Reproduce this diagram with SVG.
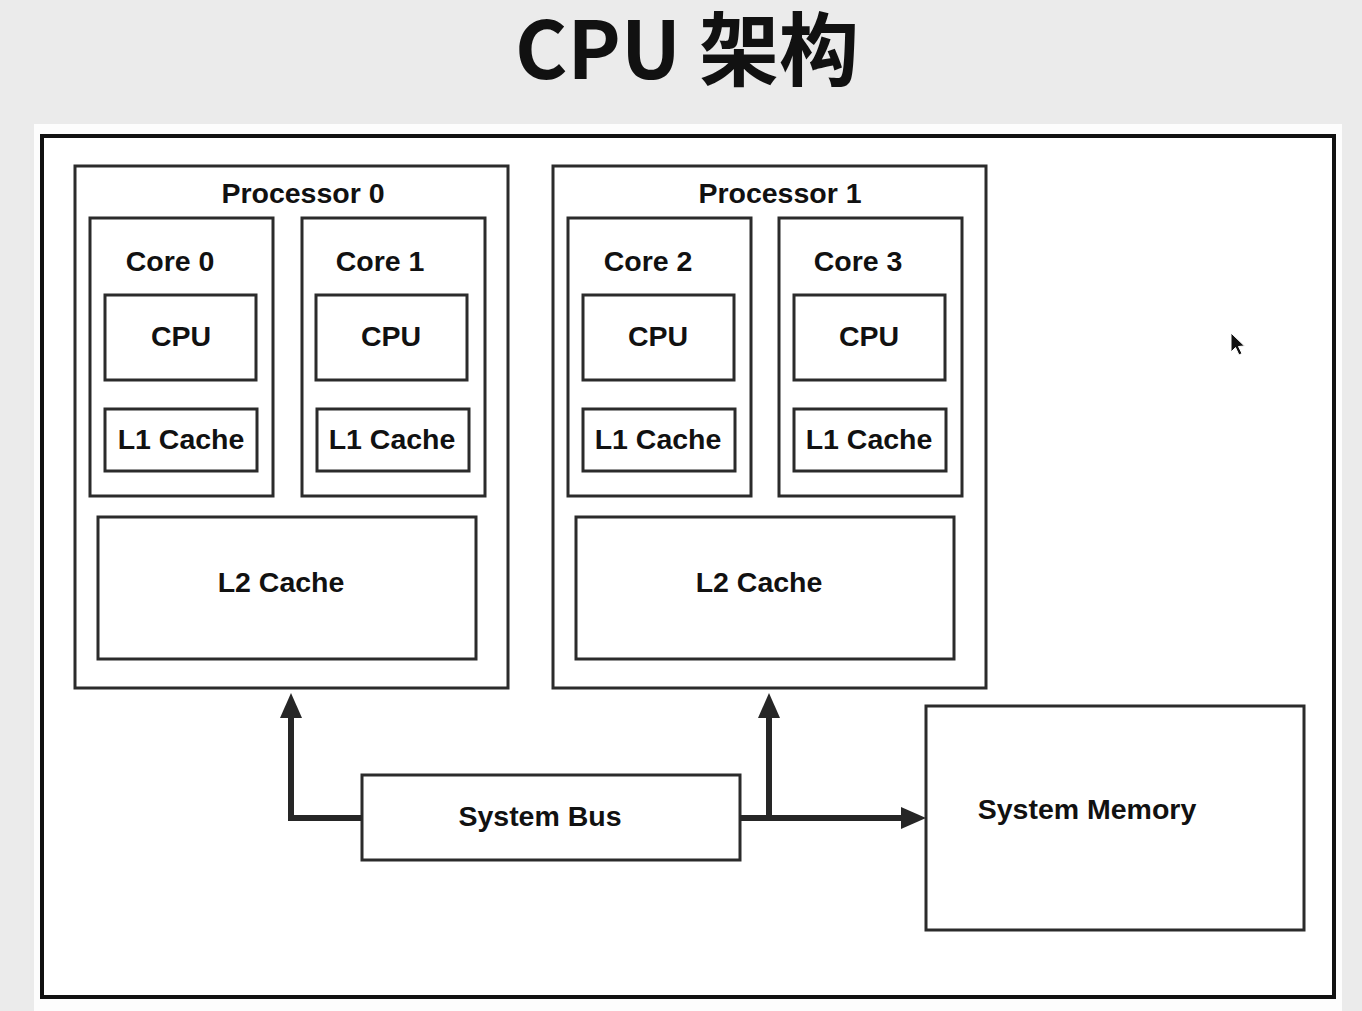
<svg xmlns="http://www.w3.org/2000/svg" width="1362" height="1011" viewBox="0 0 1362 1011">
  <style>
    .box { fill: #ffffff; stroke: #2b2b2b; stroke-width: 3; }
    .lbl { font-family: "Liberation Sans", Arial, sans-serif; font-weight: bold; font-size: 28.5px; fill: #111; text-anchor: middle; }
    .conn { fill: none; stroke: #262626; stroke-width: 6; stroke-linejoin: miter; }
  </style>
  <defs>
    <marker id="arrow" markerUnits="userSpaceOnUse" markerWidth="26" markerHeight="24" refX="0" refY="12" orient="auto">
      <path d="M0,1 L25,12 L0,23 z" fill="#262626"/>
    </marker>
  </defs>
  <rect x="0" y="0" width="1362" height="1011" fill="#ebebeb"/>
  <rect x="34" y="124" width="1308" height="887" fill="#fdfdfd"/>
  <text x="687" y="79" font-family="'Noto Sans CJK SC', 'Noto Sans', sans-serif" font-weight="bold" font-size="80" fill="#111" text-anchor="middle">CPU 架构</text>

  <g id="frame">
    <rect x="42" y="136" width="1292" height="861" fill="#ffffff" stroke="#111" stroke-width="4"/>
  </g>

  <g id="processor0">
    <rect class="box" x="75" y="166" width="433" height="522"/>
    <text class="lbl" x="303" y="203">Processor 0</text>
  </g>
  <g id="core0">
    <rect class="box" x="90" y="218" width="183" height="278"/>
    <text class="lbl" x="170" y="271">Core 0</text>
  </g>
  <g id="cpu0">
    <rect class="box" x="105" y="295" width="151" height="85"/>
    <text class="lbl" x="181" y="346">CPU</text>
  </g>
  <g id="l1cache0">
    <rect class="box" x="105" y="409" width="152" height="62"/>
    <text class="lbl" x="181" y="449">L1 Cache</text>
  </g>
  <g id="core1">
    <rect class="box" x="302" y="218" width="183" height="278"/>
    <text class="lbl" x="380" y="271">Core 1</text>
  </g>
  <g id="cpu1">
    <rect class="box" x="316" y="295" width="151" height="85"/>
    <text class="lbl" x="391" y="346">CPU</text>
  </g>
  <g id="l1cache1">
    <rect class="box" x="317" y="409" width="152" height="62"/>
    <text class="lbl" x="392" y="449">L1 Cache</text>
  </g>
  <g id="l2cache0">
    <rect class="box" x="98" y="517" width="378" height="142"/>
    <text class="lbl" x="281" y="592">L2 Cache</text>
  </g>

  <g id="processor1">
    <rect class="box" x="553" y="166" width="433" height="522"/>
    <text class="lbl" x="780" y="203">Processor 1</text>
  </g>
  <g id="core2">
    <rect class="box" x="568" y="218" width="183" height="278"/>
    <text class="lbl" x="648" y="271">Core 2</text>
  </g>
  <g id="cpu2">
    <rect class="box" x="583" y="295" width="151" height="85"/>
    <text class="lbl" x="658" y="346">CPU</text>
  </g>
  <g id="l1cache2">
    <rect class="box" x="583" y="409" width="152" height="62"/>
    <text class="lbl" x="658" y="449">L1 Cache</text>
  </g>
  <g id="core3">
    <rect class="box" x="779" y="218" width="183" height="278"/>
    <text class="lbl" x="858" y="271">Core 3</text>
  </g>
  <g id="cpu3">
    <rect class="box" x="794" y="295" width="151" height="85"/>
    <text class="lbl" x="869" y="346">CPU</text>
  </g>
  <g id="l1cache3">
    <rect class="box" x="794" y="409" width="152" height="62"/>
    <text class="lbl" x="869" y="449">L1 Cache</text>
  </g>
  <g id="l2cache1">
    <rect class="box" x="576" y="517" width="378" height="142"/>
    <text class="lbl" x="759" y="592">L2 Cache</text>
  </g>

  <g id="systembus">
    <rect class="box" x="362" y="775" width="378" height="85"/>
    <text class="lbl" x="540" y="826">System Bus</text>
  </g>
  <g id="systemmemory">
    <rect class="box" x="926" y="706" width="378" height="224"/>
    <text class="lbl" x="1087" y="819">System Memory</text>
  </g>

  <g id="connectors">
    <path class="conn" d="M362,818 H291 V718" marker-end="url(#arrow)"/>
    <path class="conn" d="M740,818 H901" marker-end="url(#arrow)"/>
    <path class="conn" d="M769,818 V718" marker-end="url(#arrow)"/>
  </g>

  <g id="cursor">
    <path d="M1231,333 L1231,352 L1235.5,347.5 L1239,355 L1242,353.5 L1238.5,346.5 L1244.5,346 Z" fill="#111" stroke="#fff" stroke-width="1"/>
  </g>
</svg>
